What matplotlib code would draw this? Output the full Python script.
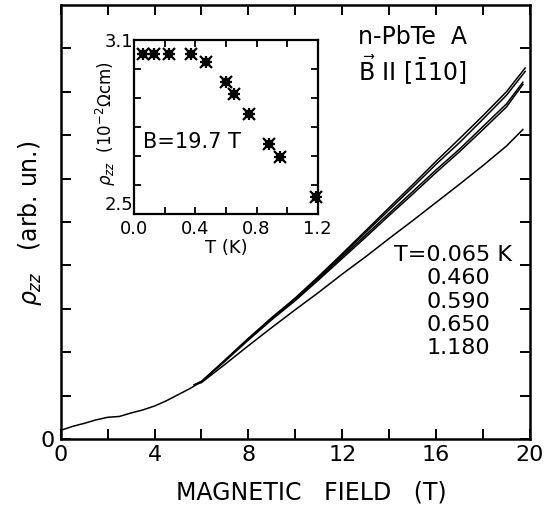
import numpy as np
import matplotlib
matplotlib.use("Agg")
import matplotlib.pyplot as plt

plt.rcParams['font.family'] = ['DejaVu Sans']
plt.rcParams['mathtext.fontset'] = 'dejavusans'

# === DONNÉES ===
# courbes rho_zz(B) pour chaque température (unités arbitraires)
b_0065 = [0, 0.5, 1, 1.5, 2, 2.5, 3, 3.5, 4, 4.5, 5, 5.5, 6, 7, 8, 9, 10, 11, 12,
          13, 14, 15, 16, 17, 18, 19, 19.8]
rho_0065 = [0.2, 0.29, 0.36, 0.44, 0.5, 0.52, 0.6, 0.67, 0.76, 0.88, 1.02, 1.16, 1.32,
            1.82, 2.32, 2.8, 3.25, 3.75, 4.27, 4.8, 5.33, 5.86, 6.4, 6.92, 7.45, 8.0, 8.55]

b_0460 = [9.4, 10, 11, 12, 13, 14, 15, 16, 17, 18, 19, 19.8]
rho_0460 = [2.95, 3.24, 3.73, 4.24, 4.76, 5.28, 5.8, 6.33, 6.83, 7.37, 7.92, 8.47]

b_0590 = [5.7, 6, 7, 8, 9, 10, 11, 12, 13, 14, 15, 16, 17, 18, 19, 19.7]
rho_0590 = [1.25, 1.33, 1.81, 2.31, 2.78, 3.22, 3.7, 4.2, 4.7, 5.2, 5.7, 6.2, 6.68,
            7.2, 7.72, 8.22]

b_0650 = [5.7, 6, 7, 8, 9, 10, 11, 12, 13, 14, 15, 16, 17, 18, 19, 19.7]
rho_0650 = [1.25, 1.32, 1.79, 2.28, 2.75, 3.19, 3.67, 4.16, 4.65, 5.15, 5.64, 6.14,
            6.62, 7.13, 7.65, 8.17]

b_1180 = [5.7, 6, 7, 8, 9, 10, 11, 12, 13, 14, 15, 16, 17, 18, 19, 19.7]
rho_1180 = [1.25, 1.3, 1.72, 2.15, 2.57, 2.98, 3.38, 3.8, 4.2, 4.62, 5.03, 5.45, 5.87,
            6.3, 6.75, 7.13]

curves = [(b_0065, rho_0065), (b_0460, rho_0460), (b_0590, rho_0590),
          (b_0650, rho_0650), (b_1180, rho_1180)]
temp_labels = ['T=0.065 K', '0.460', '0.590', '0.650', '1.180']

# encart : rho_zz(T) à B = 19.7 T
inset_T = [0.06, 0.13, 0.23, 0.37, 0.47, 0.60, 0.655, 0.75, 0.88, 0.955, 1.19]
inset_rho = [3.05, 3.05, 3.05, 3.05, 3.025, 2.955, 2.913, 2.845, 2.74, 2.695, 2.56]

x_ticks = [0, 2, 4, 6, 8, 10, 12, 14, 16, 18, 20]
x_tick_labels = ['0', '', '4', '', '8', '', '12', '', '16', '', '20']
y_ticks = [0, 1, 2, 3, 4, 5, 6, 7, 8, 9]
y_tick_labels = ['0', '', '', '', '', '', '', '', '', '']
inset_x_ticks = [0, 0.2, 0.4, 0.6, 0.8, 1.0, 1.2]
inset_x_labels = ['0.0', '', '0.4', '', '0.8', '', '1.2']
inset_y_ticks = [2.5, 2.6, 2.7, 2.8, 2.9, 3.0, 3.1]
inset_y_labels = ['2.5', '', '', '', '', '', '3.1']

# === FIGURE ===
fig = plt.figure(figsize=(5.44, 5.08), dpi=100)
ax = fig.add_axes([0.1116, 0.1358, 0.8625, 0.8544])

for b, rho in curves:
    ax.plot(b, rho, color='black', lw=1.1)

ax.set_xlim(0, 20)
ax.set_ylim(0, 10)
ax.set_xticks(x_ticks)
ax.set_xticklabels(x_tick_labels)
ax.set_yticks(y_ticks)
ax.set_yticklabels(y_tick_labels)
ax.tick_params(direction='in', length=7, width=1.4, top=True, right=True,
               labelsize=16, pad=4)
for s in ax.spines.values():
    s.set_linewidth(1.8)

fig.text(0.572, 0.03, 'MAGNETIC   FIELD   (T)', fontsize=17, ha='center', va='center')
fig.text(0.055, 0.56, r'$\rho_{zz}$   (arb. un.)', fontsize=17, rotation=90,
         ha='center', va='center')

fig.text(358 / 544, 1 - 37 / 508, 'n-PbTe  A', fontsize=17, ha='left', va='center')
fig.text(358 / 544, 1 - 70 / 508, r'$\vec{\mathrm{B}}$ II [$\bar{1}$10]', fontsize=17,
         ha='left', va='center')

# légende des températures
fig.text(512 / 544, 1 - 255 / 508, temp_labels[0], fontsize=16, ha='right', va='center')
for i, lab in enumerate(temp_labels[1:]):
    fig.text(458 / 544, 1 - (278 + 23.5 * i) / 508, lab, fontsize=16,
             ha='center', va='center')

# === ENCART ===
axi = fig.add_axes([0.2469, 0.5787, 0.337, 0.3426])
for mk, size in [('s', 4.5), ('+', 9), ('x', 8)]:
    axi.plot(inset_T, inset_rho, ls='none', marker=mk, ms=size, mew=1.6,
             color='black', clip_on=False)
axi.set_xlim(0, 1.2)
axi.set_ylim(2.5, 3.1)
axi.set_xticks(inset_x_ticks)
axi.set_xticklabels(inset_x_labels)
axi.set_yticks(inset_y_ticks)
axi.set_yticklabels(inset_y_labels)
axi.tick_params(direction='in', length=5, width=1.3, top=True, right=True,
                labelsize=13, pad=4)
axi.tick_params(axis='y', pad=1)
for s in axi.spines.values():
    s.set_linewidth(1.6)
axi.get_yticklabels()[0].set_va('bottom')
axi.set_xlabel('T (K)', fontsize=13, labelpad=1)
axi.set_ylabel(r'$\rho_{zz}$  (10$^{-2}\Omega$cm)', fontsize=12)
axi.yaxis.set_label_coords(-0.09, 0.52)
axi.text(0.06, 2.75, 'B=19.7 T', fontsize=15, ha='left', va='center')

fig.savefig('out.png', dpi=100)
